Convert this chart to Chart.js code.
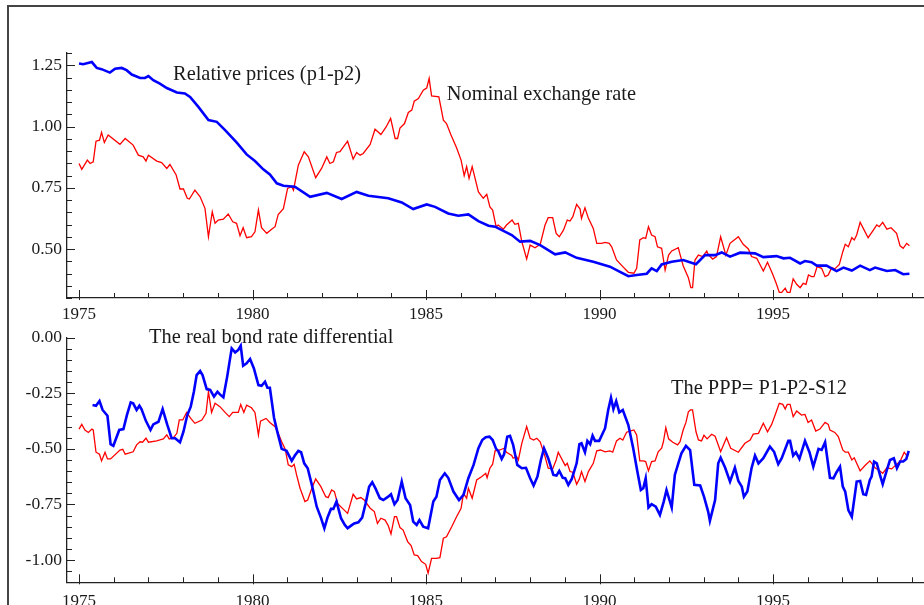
<!DOCTYPE html>
<html>
<head>
<meta charset="utf-8">
<script src="https://cdn.jsdelivr.net/npm/chart.js@4.4.0/dist/chart.umd.min.js"></script>
<style>
  html, body { margin: 0; padding: 0; background: #fff; width: 924px; height: 605px; overflow: hidden; }
  #frame { position: absolute; left: 7px; top: 5px; width: 960px; height: 640px; border-left: 2px solid #444; border-top: 2px solid #444; }
  #top { position: absolute; left: 0; top: 0; }
  #bot { position: absolute; left: 0; top: 320px; }
</style>
</head>
<body>
<div id="frame"></div>
<canvas id="top" width="924" height="330"></canvas>
<canvas id="bot" width="924" height="285"></canvas>
<script>
/* ---------- data (monthly) ---------- */
const xMajorYears = [1975, 1980, 1985, 1990, 1995];
const topYLabels = [0.50, 0.75, 1.00, 1.25];
const botYLabels = [-1.00, -0.75, -0.50, -0.25, 0.00];

// Relative prices (p1-p2)
const relYears = [
  1975.00,1975.12,1975.37,1975.51,1975.65,1975.89,1976.04,1976.23,1976.37,1976.52,
  1976.76,1976.90,1977.00,1977.14,1977.33,1977.53,1977.82,1978.05,1978.20,1978.44,
  1978.73,1978.97,1979.21,1979.54,1979.83,1980.07,1980.31,1980.50,1980.70,1980.89,
  1981.22,1981.66,1982.14,1982.57,1983.00,1983.34,1983.91,1984.30,1984.63,1985.02,
  1985.26,1985.64,1985.93,1986.22,1986.51,1986.80,1986.99,1987.47,1987.71,1988.00,
  1988.29,1988.72,1989.01,1989.34,1989.82,1990.30,1990.59,1990.83,1991.07,1991.36,
  1991.50,1991.65,1991.79,1992.08,1992.41,1992.78,1993.04,1993.33,1993.52,1993.76,
  1994.05,1994.48,1994.72,1995.10,1995.30,1995.49,1995.78,1995.92,1996.11,1996.26,
  1996.54,1996.83,1997.03,1997.27,1997.51,1997.79,1997.94,1998.28,1998.52,1998.75,
  1998.93
];
const relPrices = [
  1.257,1.254,1.263,1.239,1.234,1.220,1.236,1.239,1.230,1.212,
  1.198,1.198,1.206,1.189,1.175,1.157,1.139,1.135,1.121,1.080,
  1.026,1.019,0.985,0.935,0.886,0.859,0.825,0.804,0.768,0.758,
  0.754,0.713,0.729,0.704,0.733,0.717,0.707,0.690,0.663,0.682,
  0.672,0.645,0.636,0.641,0.614,0.595,0.591,0.557,0.530,0.533,
  0.516,0.478,0.486,0.464,0.448,0.428,0.407,0.389,0.394,0.399,
  0.421,0.410,0.437,0.448,0.455,0.438,0.475,0.475,0.486,0.469,
  0.485,0.482,0.467,0.471,0.462,0.464,0.441,0.451,0.446,0.432,
  0.432,0.410,0.424,0.412,0.432,0.414,0.424,0.410,0.414,0.397,
  0.399
];

// Nominal exchange rate
const nerYears = [
  1975.00,1975.08,1975.24,1975.32,1975.41,1975.49,1975.59,1975.65,1975.73,1975.84,
  1976.18,1976.33,1976.56,1976.71,1976.85,1976.93,1977.00,1977.24,1977.38,1977.53,
  1977.62,1977.80,1977.91,1978.01,1978.12,1978.18,1978.34,1978.49,1978.63,1978.73,
  1978.84,1978.92,1979.01,1979.16,1979.30,1979.43,1979.54,1979.64,1979.73,1979.83,
  1979.97,1980.07,1980.17,1980.26,1980.41,1980.55,1980.65,1980.74,1980.89,1981.01,
  1981.13,1981.18,1981.32,1981.49,1981.61,1981.82,1981.99,1982.14,1982.23,1982.33,
  1982.42,1982.52,1982.74,1982.90,1983.00,1983.10,1983.19,1983.39,1983.53,1983.70,
  1983.85,1983.98,1984.11,1984.18,1984.25,1984.38,1984.49,1984.59,1984.66,1984.78,
  1984.92,1985.02,1985.09,1985.16,1985.37,1985.50,1985.59,1985.72,1985.88,1986.01,
  1986.10,1986.17,1986.24,1986.33,1986.51,1986.65,1986.75,1986.84,1986.92,1987.02,
  1987.08,1987.23,1987.32,1987.48,1987.56,1987.66,1987.76,1987.90,1988.00,1988.14,
  1988.29,1988.43,1988.52,1988.65,1988.75,1988.84,1988.96,1989.07,1989.15,1989.23,
  1989.34,1989.44,1989.48,1989.58,1989.68,1989.82,1989.92,1990.06,1990.16,1990.28,
  1990.35,1990.49,1990.67,1990.83,1990.99,1991.07,1991.16,1991.26,1991.33,1991.41,
  1991.50,1991.60,1991.67,1991.79,1991.89,1991.99,1992.08,1992.27,1992.32,1992.41,
  1992.56,1992.63,1992.68,1992.75,1992.85,1992.97,1993.09,1993.13,1993.26,1993.37,
  1993.49,1993.64,1993.76,1993.90,1994.00,1994.14,1994.29,1994.38,1994.53,1994.72,
  1994.84,1994.99,1995.09,1995.18,1995.25,1995.35,1995.41,1995.49,1995.58,1995.68,
  1995.78,1995.87,1995.95,1996.02,1996.11,1996.18,1996.27,1996.40,1996.50,1996.59,
  1996.69,1996.78,1996.91,1997.01,1997.08,1997.17,1997.27,1997.34,1997.41,1997.51,
  1997.60,1997.74,1997.89,1997.99,1998.06,1998.16,1998.28,1998.40,1998.56,1998.66,
  1998.75,1998.85,1998.93
];
const nerValues = [
  0.849,0.825,0.863,0.849,0.856,0.940,0.944,0.976,0.935,0.965,
  0.927,0.951,0.924,0.883,0.876,0.859,0.883,0.859,0.853,0.829,
  0.845,0.802,0.745,0.745,0.707,0.704,0.740,0.713,0.666,0.550,
  0.652,0.605,0.618,0.622,0.643,0.611,0.605,0.554,0.587,0.546,
  0.550,0.570,0.659,0.587,0.564,0.581,0.591,0.641,0.665,0.747,
  0.754,0.740,0.842,0.897,0.876,0.791,0.829,0.876,0.849,0.856,
  0.894,0.897,0.940,0.867,0.894,0.883,0.890,0.927,0.989,0.967,
  0.998,1.033,0.951,0.951,0.994,1.012,1.057,1.067,1.103,1.114,
  1.148,1.157,1.196,1.125,1.121,1.026,1.012,0.965,0.913,0.863,
  0.799,0.836,0.788,0.836,0.733,0.707,0.723,0.672,0.659,0.591,
  0.598,0.581,0.598,0.618,0.601,0.605,0.530,0.459,0.516,0.505,
  0.519,0.598,0.628,0.628,0.564,0.550,0.577,0.618,0.614,0.632,
  0.682,0.663,0.625,0.668,0.625,0.584,0.523,0.523,0.527,0.523,
  0.509,0.455,0.428,0.405,0.401,0.421,0.537,0.546,0.543,0.591,
  0.557,0.550,0.509,0.503,0.414,0.475,0.492,0.505,0.478,0.432,
  0.383,0.342,0.342,0.455,0.475,0.469,0.492,0.478,0.459,0.469,
  0.550,0.475,0.523,0.539,0.550,0.519,0.500,0.469,0.462,0.410,
  0.446,0.397,0.360,0.323,0.323,0.340,0.323,0.323,0.378,0.356,
  0.342,0.360,0.356,0.394,0.387,0.387,0.428,0.421,0.387,0.394,
  0.424,0.419,0.437,0.489,0.519,0.509,0.546,0.537,0.557,0.609,
  0.584,0.546,0.577,0.598,0.591,0.609,0.581,0.587,0.564,0.513,
  0.503,0.523,0.513
];

// The real bond rate differential
const bondYears = [
  1975.00,1975.08,1975.17,1975.27,1975.37,1975.41,1975.49,1975.59,1975.65,1975.75,
  1975.82,1975.91,1976.18,1976.26,1976.33,1976.56,1976.66,1976.76,1976.83,1976.93,
  1977.00,1977.24,1977.33,1977.43,1977.53,1977.60,1977.72,1977.82,1977.89,1977.99,
  1978.10,1978.22,1978.34,1978.54,1978.66,1978.73,1978.82,1978.92,1979.06,1979.21,
  1979.33,1979.43,1979.59,1979.66,1979.75,1979.83,1979.97,1980.07,1980.17,1980.23,
  1980.39,1980.50,1980.65,1980.74,1980.84,1980.94,1981.03,1981.13,1981.20,1981.27,
  1981.37,1981.51,1981.59,1981.71,1981.82,1981.97,1982.11,1982.18,1982.28,1982.36,
  1982.45,1982.57,1982.74,1982.90,1983.00,1983.12,1983.22,1983.39,1983.51,1983.60,
  1983.70,1983.82,1983.91,1983.99,1984.09,1984.15,1984.25,1984.34,1984.47,1984.57,
  1984.66,1984.76,1984.87,1984.99,1985.06,1985.16,1985.30,1985.40,1985.50,1985.59,
  1985.74,1985.88,1986.01,1986.08,1986.17,1986.22,1986.33,1986.46,1986.60,1986.72,
  1986.76,1986.84,1986.92,1986.99,1987.13,1987.25,1987.32,1987.47,1987.51,1987.61,
  1987.66,1987.76,1987.90,1988.00,1988.10,1988.19,1988.29,1988.43,1988.52,1988.65,
  1988.75,1988.81,1988.91,1989.01,1989.07,1989.15,1989.23,1989.34,1989.42,1989.48,
  1989.58,1989.68,1989.82,1989.92,1990.03,1990.16,1990.30,1990.38,1990.49,1990.59,
  1990.67,1990.78,1990.88,1990.99,1991.07,1991.16,1991.26,1991.33,1991.41,1991.50,
  1991.60,1991.69,1991.79,1991.84,1991.91,1991.99,1992.11,1992.25,1992.32,1992.41,
  1992.49,1992.56,1992.62,1992.68,1992.78,1992.85,1992.94,1993.01,1993.10,1993.23,
  1993.33,1993.49,1993.66,1993.78,1994.00,1994.19,1994.34,1994.43,1994.58,1994.72,
  1994.84,1994.96,1995.06,1995.18,1995.28,1995.35,1995.41,1995.49,1995.58,1995.68,
  1995.82,1995.92,1996.01,1996.11,1996.23,1996.35,1996.50,1996.59,1996.64,1996.78,
  1996.88,1997.01,1997.08,1997.17,1997.27,1997.34,1997.41,1997.51,1997.65,1997.79,
  1997.94,1998.04,1998.16,1998.28,1998.42,1998.54,1998.66,1998.78,1998.85,1998.90
];
const bondValues = [
  -0.411,-0.390,-0.415,-0.426,-0.411,-0.415,-0.515,-0.524,-0.554,-0.515,
  -0.545,-0.545,-0.505,-0.502,-0.524,-0.513,-0.482,-0.468,-0.470,-0.452,
  -0.470,-0.464,-0.460,-0.455,-0.437,-0.455,-0.450,-0.430,-0.370,-0.370,
  -0.336,-0.363,-0.385,-0.370,-0.340,-0.243,-0.336,-0.295,-0.310,-0.336,
  -0.355,-0.336,-0.336,-0.300,-0.336,-0.303,-0.315,-0.336,-0.437,-0.375,
  -0.363,-0.381,-0.400,-0.430,-0.468,-0.500,-0.572,-0.580,-0.569,-0.617,
  -0.677,-0.737,-0.730,-0.677,-0.635,-0.670,-0.715,-0.719,-0.685,-0.692,
  -0.745,-0.764,-0.790,-0.704,-0.725,-0.719,-0.730,-0.767,-0.782,-0.835,
  -0.812,-0.820,-0.845,-0.883,-0.805,-0.805,-0.854,-0.865,-0.917,-0.935,
  -0.977,-0.980,-1.007,-1.019,-1.059,-0.992,-0.992,-0.989,-0.902,-0.895,
  -0.850,-0.805,-0.767,-0.700,-0.722,-0.677,-0.722,-0.640,-0.625,-0.610,
  -0.630,-0.587,-0.569,-0.509,-0.505,-0.497,-0.515,-0.530,-0.542,-0.535,
  -0.550,-0.475,-0.400,-0.452,-0.460,-0.452,-0.468,-0.535,-0.587,-0.590,
  -0.550,-0.515,-0.545,-0.575,-0.565,-0.602,-0.605,-0.659,-0.635,-0.602,
  -0.647,-0.602,-0.565,-0.509,-0.505,-0.513,-0.509,-0.515,-0.464,-0.452,
  -0.460,-0.425,-0.420,-0.415,-0.437,-0.554,-0.554,-0.557,-0.599,-0.557,
  -0.554,-0.513,-0.497,-0.468,-0.405,-0.455,-0.470,-0.482,-0.468,-0.415,
  -0.381,-0.333,-0.325,-0.325,-0.423,-0.460,-0.464,-0.439,-0.455,-0.434,
  -0.443,-0.513,-0.450,-0.497,-0.515,-0.475,-0.460,-0.434,-0.430,-0.385,
  -0.423,-0.390,-0.348,-0.295,-0.300,-0.321,-0.300,-0.300,-0.355,-0.330,
  -0.348,-0.345,-0.381,-0.370,-0.420,-0.411,-0.381,-0.390,-0.415,-0.426,
  -0.445,-0.505,-0.515,-0.515,-0.550,-0.540,-0.565,-0.599,-0.575,-0.554,
  -0.585,-0.595,-0.610,-0.585,-0.590,-0.572,-0.557,-0.515,-0.530,-0.524
];

// The PPP = P1-P2-S12
const pppYears = [
  1975.39,1975.49,1975.59,1975.68,1975.82,1975.91,1975.99,1976.16,1976.28,1976.38,
  1976.49,1976.56,1976.66,1976.74,1976.80,1976.93,1977.06,1977.14,1977.29,1977.41,
  1977.54,1977.67,1977.77,1977.83,1977.91,1978.01,1978.12,1978.22,1978.31,1978.39,
  1978.49,1978.56,1978.68,1978.78,1978.89,1978.99,1979.06,1979.16,1979.27,1979.40,
  1979.50,1979.59,1979.66,1979.73,1979.83,1979.93,1980.04,1980.17,1980.26,1980.36,
  1980.43,1980.50,1980.62,1980.71,1980.84,1980.98,1981.13,1981.22,1981.32,1981.40,
  1981.49,1981.59,1981.71,1981.85,1981.97,1982.07,1982.16,1982.26,1982.33,1982.42,
  1982.55,1982.66,1982.74,1982.84,1982.93,1983.05,1983.16,1983.26,1983.36,1983.45,
  1983.55,1983.67,1983.77,1983.91,1983.99,1984.09,1984.18,1984.30,1984.41,1984.54,
  1984.63,1984.73,1984.81,1984.92,1985.06,1985.21,1985.30,1985.40,1985.54,1985.64,
  1985.79,1985.95,1986.08,1986.22,1986.37,1986.51,1986.62,1986.72,1986.83,1986.92,
  1987.02,1987.08,1987.18,1987.25,1987.34,1987.42,1987.51,1987.63,1987.76,1987.88,
  1988.00,1988.10,1988.21,1988.31,1988.40,1988.52,1988.67,1988.76,1988.84,1988.94,
  1989.01,1989.10,1989.20,1989.34,1989.42,1989.48,1989.58,1989.65,1989.73,1989.80,
  1989.87,1989.99,1990.16,1990.25,1990.33,1990.40,1990.48,1990.57,1990.67,1990.83,
  1990.97,1991.09,1991.19,1991.26,1991.33,1991.41,1991.50,1991.62,1991.74,1991.85,
  1991.93,1992.00,1992.08,1992.17,1992.27,1992.36,1992.49,1992.61,1992.73,1992.90,
  1993.01,1993.13,1993.18,1993.33,1993.42,1993.49,1993.62,1993.76,1993.90,1994.00,
  1994.10,1994.16,1994.26,1994.38,1994.48,1994.58,1994.72,1994.91,1995.03,1995.15,
  1995.25,1995.44,1995.49,1995.58,1995.66,1995.76,1995.92,1996.05,1996.16,1996.31,
  1996.40,1996.50,1996.64,1996.74,1996.83,1996.93,1997.01,1997.08,1997.17,1997.27,
  1997.41,1997.51,1997.60,1997.68,1997.79,1997.84,1997.91,1997.99,1998.08,1998.16,
  1998.28,1998.37,1998.48,1998.57,1998.66,1998.75,1998.84,1998.91
];
const pppValues = [
  -0.303,-0.306,-0.285,-0.325,-0.351,-0.479,-0.486,-0.415,-0.411,-0.348,
  -0.291,-0.295,-0.325,-0.306,-0.321,-0.375,-0.415,-0.390,-0.378,-0.321,
  -0.390,-0.452,-0.452,-0.460,-0.470,-0.423,-0.348,-0.310,-0.243,-0.168,
  -0.150,-0.168,-0.231,-0.235,-0.265,-0.243,-0.255,-0.268,-0.175,-0.048,
  -0.066,-0.055,-0.036,-0.126,-0.115,-0.096,-0.138,-0.213,-0.216,-0.198,
  -0.225,-0.225,-0.360,-0.420,-0.500,-0.509,-0.554,-0.530,-0.509,-0.515,
  -0.565,-0.587,-0.662,-0.760,-0.809,-0.857,-0.809,-0.770,-0.770,-0.737,
  -0.812,-0.842,-0.857,-0.845,-0.835,-0.830,-0.809,-0.745,-0.670,-0.650,
  -0.680,-0.722,-0.730,-0.715,-0.704,-0.749,-0.730,-0.647,-0.722,-0.752,
  -0.827,-0.842,-0.820,-0.850,-0.857,-0.737,-0.715,-0.640,-0.610,-0.630,
  -0.692,-0.730,-0.707,-0.632,-0.572,-0.497,-0.460,-0.448,-0.445,-0.460,
  -0.500,-0.509,-0.545,-0.524,-0.445,-0.441,-0.482,-0.572,-0.587,-0.585,
  -0.632,-0.665,-0.625,-0.550,-0.497,-0.542,-0.617,-0.620,-0.599,-0.630,
  -0.632,-0.662,-0.635,-0.565,-0.479,-0.475,-0.515,-0.464,-0.479,-0.441,
  -0.464,-0.464,-0.407,-0.325,-0.270,-0.321,-0.285,-0.336,-0.325,-0.393,
  -0.497,-0.602,-0.685,-0.677,-0.632,-0.764,-0.749,-0.760,-0.797,-0.737,
  -0.685,-0.722,-0.764,-0.617,-0.565,-0.520,-0.486,-0.505,-0.662,-0.665,
  -0.715,-0.782,-0.824,-0.730,-0.565,-0.540,-0.585,-0.647,-0.585,-0.644,
  -0.670,-0.715,-0.692,-0.587,-0.530,-0.565,-0.542,-0.490,-0.513,-0.569,
  -0.542,-0.464,-0.464,-0.530,-0.515,-0.545,-0.464,-0.515,-0.580,-0.500,
  -0.505,-0.470,-0.630,-0.632,-0.605,-0.580,-0.670,-0.692,-0.775,-0.805,
  -0.647,-0.644,-0.704,-0.707,-0.640,-0.625,-0.557,-0.565,-0.617,-0.659,
  -0.595,-0.550,-0.542,-0.587,-0.557,-0.557,-0.545,-0.509
];

/* ---------- styling ---------- */
const BLUE = '#0000ff';
const RED = '#ff0000';
const AXIS = '#222';
const SERIF = '"Liberation Serif", "DejaVu Serif", serif';
const FONT = { family: SERIF, size: 17 };
const NOTE_SIZE = 20.4;
const X_MIN = 1974.654, X_MAX = 1999.35;

function pts(xs, ys) { return xs.map((x, i) => ({ x, y: ys[i] })); }

function stepTicks(min, max, step) {
  const out = [];
  for (let v = Math.ceil(min / step - 1e-9) * step; v <= max + 1e-9; v += step) out.push({ value: Math.round(v * 100) / 100 });
  return out;
}

/* ---------- plugins ---------- */
// ticks drawn inward, like the original graphics package
const inwardTicks = {
  id: 'inwardTicks',
  afterDatasetsDraw(chart) {
    const { ctx, chartArea: a, scales: { x, y } } = chart;
    const majorY = chart.options.plugins.inwardTicks.majorY;
    ctx.save();
    ctx.strokeStyle = AXIS;
    ctx.lineWidth = 1;
    ctx.beginPath();
    x.ticks.forEach(t => {
      const px = Math.round(x.getPixelForValue(t.value)) + 0.5;
      const major = xMajorYears.includes(t.value);
      ctx.moveTo(px, a.bottom + (major ? 2 : 0));
      ctx.lineTo(px, a.bottom - (major ? 8 : 5));
    });
    y.ticks.forEach(t => {
      const py = Math.round(y.getPixelForValue(t.value)) + 0.5;
      const major = majorY.some(m => Math.abs(m - t.value) < 1e-6);
      ctx.moveTo(a.left, py);
      ctx.lineTo(a.left + (major ? 8 : 5), py);
    });
    ctx.stroke();
    ctx.restore();
  }
};

// in-plot text labels anchored on data coordinates
const notes = {
  id: 'notes',
  afterDatasetsDraw(chart, args, opts) {
    const { ctx, scales: { x, y } } = chart;
    ctx.save();
    ctx.fillStyle = '#1a1a1a';
    ctx.font = `${NOTE_SIZE}px ${SERIF}`;
    ctx.textAlign = 'left';
    ctx.textBaseline = 'middle';
    (opts.items || []).forEach(n => ctx.fillText(n.text, x.getPixelForValue(n.x), y.getPixelForValue(n.y)));
    ctx.restore();
  }
};

function panelOptions(yMin, yMax, yLabels, padTop, xHeight, xPad, items) {
  return {
    responsive: false,
    animation: false,
    events: [],
    layout: { padding: { top: padTop, left: 0, right: 0, bottom: 0 } },
    plugins: {
      legend: { display: false },
      tooltip: { enabled: false },
      inwardTicks: { majorY: yLabels },
      notes: { items },
    },
    scales: {
      x: {
        type: 'linear',
        min: X_MIN,
        max: X_MAX,
        grid: { display: false, drawTicks: false },
        border: { display: true, color: AXIS, width: 1.3 },
        afterBuildTicks: s => { s.ticks = stepTicks(1975, 1999, 1); },
        afterFit: s => { s.height = xHeight; },
        ticks: {
          autoSkip: false,
          maxRotation: 0,
          padding: xPad,
          color: '#1a1a1a',
          font: FONT,
          callback: v => (xMajorYears.includes(v) ? String(v) : ''),
        },
      },
      y: {
        min: yMin,
        max: yMax,
        grid: { display: false, drawTicks: false },
        border: { display: true, color: AXIS, width: 1.3 },
        afterBuildTicks: s => { s.ticks = stepTicks(yMin, yMax, 0.05); },
        afterFit: s => { s.width = 67; },
        ticks: {
          autoSkip: false,
          padding: 5,
          color: '#1a1a1a',
          font: { family: SERIF, size: 17.5 },
          callback: v => (yLabels.some(m => Math.abs(m - v) < 1e-6) ? v.toFixed(2) : ''),
        },
      },
    },
  };
}

function lineSet(label, data, color, width, order) {
  return { label, data, borderColor: color, borderWidth: width, pointRadius: 0, tension: 0, fill: false, order };
}

/* ---------- top panel ---------- */
new Chart(document.getElementById('top'), {
  type: 'line',
  data: {
    datasets: [
      lineSet('Relative prices (p1-p2)', pts(relYears, relPrices), BLUE, 2.6, 0),
      lineSet('Nominal exchange rate', pts(nerYears, nerValues), RED, 1.3, 1),
    ],
  },
  options: panelOptions(0.30, 1.30, topYLabels, 53, 32, 6, [
    { text: 'Relative prices (p1-p2)', x: 1977.71, y: 1.213 },
    { text: 'Nominal exchange rate', x: 1985.6, y: 1.128 },
  ]),
  plugins: [inwardTicks, notes],
});

/* ---------- bottom panel ---------- */
new Chart(document.getElementById('bot'), {
  type: 'line',
  data: {
    datasets: [
      lineSet('The PPP= P1-P2-S12', pts(pppYears, pppValues), BLUE, 2.6, 0),
      lineSet('The real bond rate differential', pts(bondYears, bondValues), RED, 1.3, 1),
    ],
  },
  options: panelOptions(-1.10, 0.00, botYLabels, 17.7, 22.7, 9, [
    { text: 'The real bond rate differential', x: 1977.02, y: 0.0 },
    { text: 'The PPP= P1-P2-S12', x: 1992.06, y: -0.231 },
  ]),
  plugins: [inwardTicks, notes],
});
</script>
</body>
</html>
